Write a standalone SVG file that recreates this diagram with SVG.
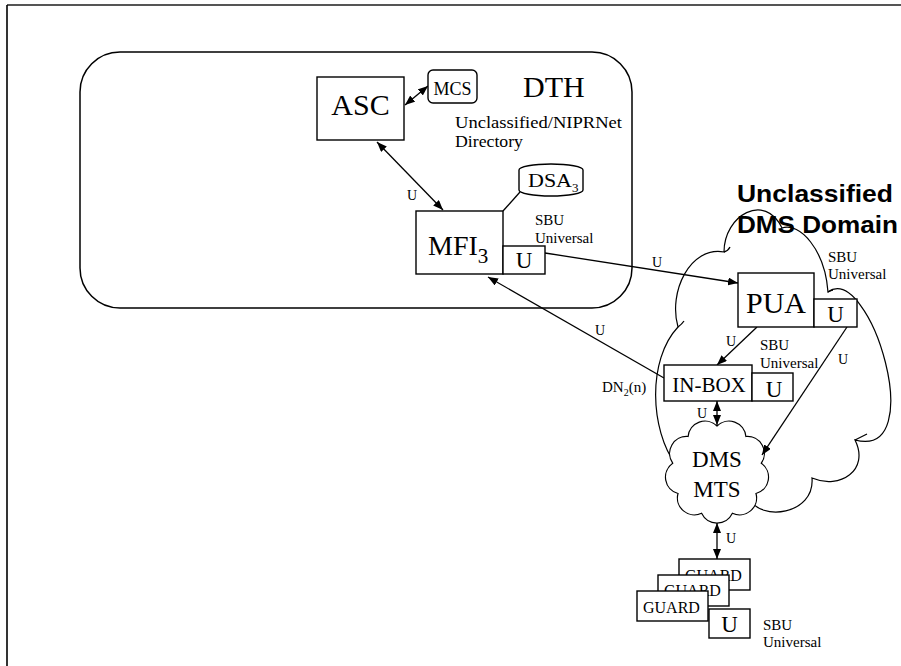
<svg xmlns="http://www.w3.org/2000/svg" width="901" height="666" viewBox="0 0 901 666">
  <style>
    .box { fill: #fff; stroke: #000; stroke-width: 1.4; }
    .cloud { fill: #fff; stroke: #000; stroke-width: 1.2; }
    .wire { fill: none; stroke: #000; stroke-width: 1.3; }
    .serif { font-family: "Liberation Serif", "Times New Roman", serif; fill: #000; }
    .big { font-size: 30px; }
    .mid { font-size: 23px; }
    .lbl { font-size: 14px; }
    .note { font-size: 15px; }
    .domain { font-family: "Liberation Sans", Arial, sans-serif; font-weight: bold; font-size: 24px; fill: #000; }
  </style>
  <defs>
    <marker id="arrow" viewBox="0 0 10 8" refX="10" refY="4" markerWidth="10" markerHeight="8" markerUnits="userSpaceOnUse" orient="auto-start-reverse">
      <path d="M0,0 L10,4 L0,8 Z" fill="#000"/>
    </marker>
  </defs>

  <rect width="901" height="666" fill="#fff"/>

  <!-- page frame -->
  <g id="frame">
    <line x1="7" y1="5" x2="901" y2="5" stroke="#555" stroke-width="2"/>
    <line x1="7" y1="5" x2="7" y2="666" stroke="#000" stroke-width="1.6"/>
  </g>

  <!-- DTH directory region -->
  <g id="dth">
    <rect x="80" y="52" width="552" height="256" rx="40" ry="40" fill="#fff" stroke="#000" stroke-width="1.5"/>
    <text class="serif big" x="523" y="97">DTH</text>
    <text class="serif" font-size="17" x="455" y="128" textLength="167" lengthAdjust="spacingAndGlyphs">Unclassified/NIPRNet</text>
    <text class="serif" font-size="17" x="455" y="147" textLength="68" lengthAdjust="spacingAndGlyphs">Directory</text>
  </g>

  <!-- Unclassified DMS domain cloud -->
  <g id="dms-domain">
    <path class="cloud" d="M676,465 C650,430 647,360 678,327 C668,292 690,246 724,252 C724,215 765,192 782,228 C800,222 825,250 828,292 C870,262 930,460 855,440 C870,470 840,490 812,478 C815,515 760,522 749,498 L717,471 Z"/>
    <!-- small curls where the lobes meet -->
    <path class="wire" stroke-width="1.2" d="M678,327 q4,-3 6,-6 M724,252 q4,-1 6,-5 M828,292 q3,-2 5,-2 M855,440 q6,-3 12,-6"/>
    <text class="domain" x="737" y="202" textLength="156" lengthAdjust="spacingAndGlyphs">Unclassified</text>
    <text class="domain" x="737" y="233" textLength="161" lengthAdjust="spacingAndGlyphs">DMS Domain</text>
  </g>

  <!-- DMS MTS cloud -->
  <g id="dms-mts">
    <path class="cloud" d="M717,426 A17,17 0 0 1 745.9,436.5 A17,17 0 0 1 761.3,463.2 A17,17 0 0 1 756,493.5 A17,17 0 0 1 732.4,513.3 A17,17 0 0 1 701.6,513.3 A17,17 0 0 1 678,493.5 A17,17 0 0 1 672.7,463.2 A17,17 0 0 1 688.1,436.5 A17,17 0 0 1 717,426 Z"/>
    <text class="serif mid" x="717" y="467" text-anchor="middle">DMS</text>
    <text class="serif mid" x="717" y="497" text-anchor="middle">MTS</text>
  </g>

  <!-- connectors -->
  <g id="connectors">
    <line class="wire" x1="405" y1="105" x2="428" y2="86" marker-start="url(#arrow)" marker-end="url(#arrow)"/>
    <line class="wire" x1="377" y1="142" x2="443" y2="210" marker-start="url(#arrow)" marker-end="url(#arrow)"/>
    <line class="wire" x1="503" y1="211" x2="520" y2="192"/>
    <line class="wire" x1="545" y1="253" x2="738" y2="283" marker-end="url(#arrow)"/>
    <line class="wire" x1="664" y1="378" x2="488" y2="277" marker-end="url(#arrow)"/>
    <line class="wire" x1="757" y1="327" x2="717" y2="365" marker-end="url(#arrow)"/>
    <line class="wire" x1="847" y1="327" x2="762" y2="455" marker-end="url(#arrow)"/>
    <line class="wire" x1="717" y1="401" x2="717" y2="425" marker-start="url(#arrow)" marker-end="url(#arrow)"/>
    <line class="wire" x1="717" y1="523" x2="717" y2="559" marker-start="url(#arrow)" marker-end="url(#arrow)"/>
    <text class="serif lbl" x="412" y="200" text-anchor="middle">U</text>
    <text class="serif lbl" x="657" y="267" text-anchor="middle">U</text>
    <text class="serif lbl" x="600" y="335" text-anchor="middle">U</text>
    <text class="serif lbl" x="731" y="346" text-anchor="middle">U</text>
    <text class="serif lbl" x="843" y="364" text-anchor="middle">U</text>
    <text class="serif lbl" x="702" y="418" text-anchor="middle">U</text>
    <text class="serif lbl" x="731" y="543" text-anchor="middle">U</text>
  </g>

  <!-- nodes -->
  <g id="asc">
    <rect class="box" x="317" y="77" width="87" height="63"/>
    <text class="serif big" x="360.5" y="115" text-anchor="middle">ASC</text>
  </g>

  <g id="mcs">
    <rect class="box" x="428" y="70" width="49" height="33" rx="5" ry="5"/>
    <text class="serif" font-size="18" x="452.5" y="95" text-anchor="middle">MCS</text>
  </g>

  <g id="dsa3">
    <path class="box" d="M519,170 A32,6 0 0 1 583,170 L583,190 A32,6 0 0 1 519,190 Z"/>
    <text class="serif" font-size="18" x="528" y="187" textLength="44" lengthAdjust="spacingAndGlyphs">DSA</text>
    <text class="serif" font-size="13" x="572" y="192">3</text>
  </g>

  <g id="mfi3">
    <rect class="box" x="416" y="211" width="87" height="63"/>
    <text class="serif" font-size="28" x="428" y="255">MFI<tspan font-size="21" dy="8">3</tspan></text>
    <rect class="box" x="503" y="246" width="42" height="28"/>
    <text class="serif" font-size="23" x="524" y="268" text-anchor="middle">U</text>
    <text class="serif note" x="535" y="225">SBU</text>
    <text class="serif note" x="535" y="243">Universal</text>
  </g>

  <g id="pua">
    <rect class="box" x="738" y="273" width="76" height="54"/>
    <text class="serif big" x="776" y="313" text-anchor="middle">PUA</text>
    <rect class="box" x="814" y="299" width="43" height="28"/>
    <text class="serif" font-size="23" x="835.5" y="322" text-anchor="middle">U</text>
    <text class="serif note" x="828" y="262">SBU</text>
    <text class="serif note" x="828" y="279">Universal</text>
  </g>

  <g id="in-box">
    <rect class="box" x="664" y="365" width="88" height="36"/>
    <text class="serif" font-size="21" x="709" y="392" text-anchor="middle">IN-BOX</text>
    <rect class="box" x="752" y="373" width="41" height="28"/>
    <text class="serif" font-size="23" x="774" y="397" text-anchor="middle">U</text>
    <text class="serif note" x="760" y="350">SBU</text>
    <text class="serif note" x="760" y="368">Universal</text>
    <text class="serif note" x="602" y="392">DN<tspan font-size="10" dy="4">2</tspan><tspan dy="-4">(n)</tspan></text>
  </g>

  <g id="guards">
    <rect class="box" x="679" y="559" width="71" height="31"/>
    <text class="serif" font-size="16" x="685" y="581">GUARD</text>
    <rect class="box" x="658" y="575" width="71" height="31"/>
    <text class="serif" font-size="16" x="664" y="596">GUARD</text>
    <rect class="box" x="637" y="591" width="71" height="30"/>
    <text class="serif" font-size="16" x="643" y="613">GUARD</text>
    <rect class="box" x="709" y="609" width="41" height="29"/>
    <text class="serif" font-size="23" x="729.5" y="632" text-anchor="middle">U</text>
    <text class="serif note" x="763" y="630">SBU</text>
    <text class="serif note" x="763" y="647">Universal</text>
  </g>
</svg>
